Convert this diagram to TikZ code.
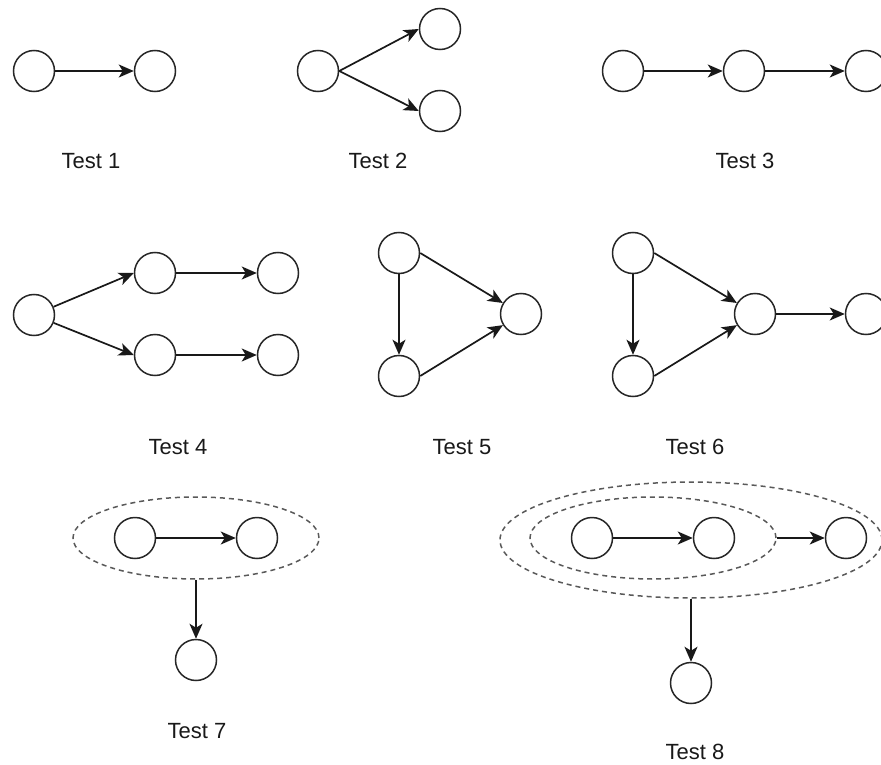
\documentclass[tikz,border=0pt]{standalone}
\usepackage{fontspec}
\setmainfont{Liberation Sans}
\usetikzlibrary{arrows.meta,shapes.geometric}
\begin{document}
\begin{tikzpicture}[x=1pt,y=-1pt,
  vert/.style={circle,draw=black!85,line width=1.5pt,minimum size=41pt,inner sep=0pt,fill=white},
  conn/.style={draw=black!90,line width=1.7pt,-{Stealth[length=15pt,width=13pt,inset=4pt]}},
  group/.style={ellipse,draw=black!65,line width=1.5pt,dash pattern=on 5pt off 4pt,inner sep=0pt},
  lbl/.style={font=\fontsize{22}{25}\selectfont,text=black!90,inner sep=0pt}]
\useasboundingbox (0,0) rectangle (881,765);
% Test 1
\node[vert] (a1) at (34,71) {};
\node[vert] (b1) at (155,71) {};
\draw[conn] (a1) -- (b1);
\node[lbl] (t1) at (91,161) {Test 1};
% Test 2
\node[vert] (a2) at (318,71) {};
\node[vert] (b2) at (440,29) {};
\node[vert] (c2) at (440,111) {};
\draw[conn] (a2.east) -- (b2.west);
\draw[conn] (a2.east) -- (c2.west);
\node[lbl] (t2) at (378,161) {Test 2};
% Test 3
\node[vert] (a3) at (623,71) {};
\node[vert] (b3) at (744,71) {};
\node[vert] (c3) at (866,71) {};
\draw[conn] (a3) -- (b3);
\draw[conn] (b3) -- (c3);
\node[lbl] (t3) at (745,161) {Test 3};
% Test 4
\node[vert] (a4) at (34,315) {};
\node[vert] (b4) at (155,273) {};
\node[vert] (c4) at (155,355) {};
\node[vert] (d4) at (278,273) {};
\node[vert] (e4) at (278,355) {};
\draw[conn] (a4) -- (b4.west);
\draw[conn] (a4) -- (c4.west);
\draw[conn] (b4) -- (d4);
\draw[conn] (c4) -- (e4);
\node[lbl] (t4) at (178,447) {Test 4};
% Test 5
\node[vert] (a5) at (399,253) {};
\node[vert] (b5) at (399,376) {};
\node[vert] (c5) at (521,314) {};
\draw[conn] (a5) -- (b5);
\draw[conn] (a5.east) -- (c5);
\draw[conn] (b5.east) -- (c5);
\node[lbl] (t5) at (462,447) {Test 5};
% Test 6
\node[vert] (a6) at (633,253) {};
\node[vert] (b6) at (633,376) {};
\node[vert] (c6) at (755,314) {};
\node[vert] (d6) at (866,314) {};
\draw[conn] (a6) -- (b6);
\draw[conn] (a6.east) -- (c6);
\draw[conn] (b6.east) -- (c6);
\draw[conn] (c6) -- (d6);
\node[lbl] (t6) at (695,447) {Test 6};
% Test 7
\node[group,minimum width=246pt,minimum height=82pt] (g7) at (196,538) {};
\node[vert] (a7) at (135,538) {};
\node[vert] (b7) at (257,538) {};
\node[vert] (c7) at (196,660) {};
\draw[conn] (a7) -- (b7);
\draw[conn] (g7.south) -- (c7);
\node[lbl] (t7) at (197,731) {Test 7};
% Test 8
\node[group,minimum width=382pt,minimum height=116pt] (h8) at (691,540) {};
\node[group,minimum width=246pt,minimum height=82pt] (g8) at (653,538) {};
\node[vert] (a8) at (592,538) {};
\node[vert] (b8) at (714,538) {};
\node[vert] (c8) at (846,538) {};
\node[vert] (d8) at (691,683) {};
\draw[conn] (a8) -- (b8);
\draw[conn] (g8.east) -- (c8);
\draw[conn] (h8.south) -- (d8);
\node[lbl] (t8) at (695,752) {Test 8};
\end{tikzpicture}
\end{document}
